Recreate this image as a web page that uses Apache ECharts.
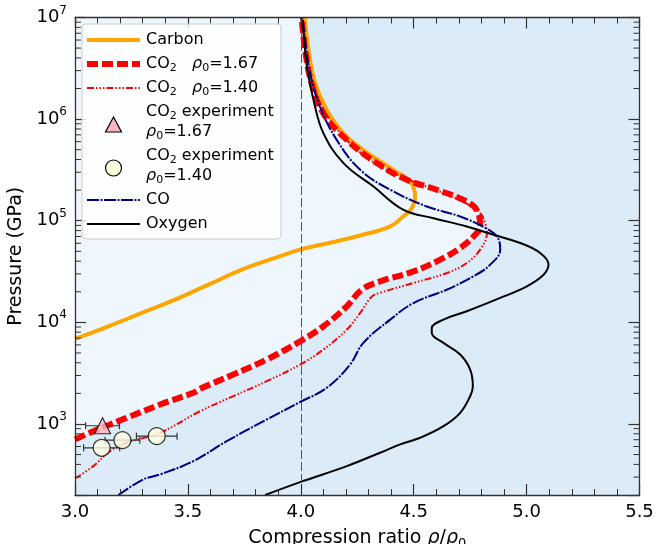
<!DOCTYPE html>
<html><head><meta charset="utf-8">
<script src="https://cdn.jsdelivr.net/npm/echarts@6/dist/echarts.min.js"></script>
<style>html,body{margin:0;padding:0;background:#fff}#c{width:667px;height:544px}</style>
</head><body><div id="c"></div>
<script>
// ---- data ----
const carbonX = [3.000,3.148,3.296,3.443,3.591,3.739,3.886,3.997,4.130,4.276,4.396,4.453,4.492,4.506,4.484,4.409,4.276,4.187,4.115,4.063,4.034,4.017];
const carbonP = [6870,9140,12390,16750,23500,33000,43000,51900,60800,72800,87900,110000,133000,173000,243000,317000,499000,733000,1230000,2270000,4800000,10000000];

const co2a_X = [3.000,3.081,3.155,3.229,3.377,3.524,3.554,3.701,3.849,3.997,4.100,4.204,4.270,4.351,4.499,4.617,4.706,4.765,4.794,4.786,4.745,4.602,4.469,4.337,4.204,4.100,4.048,4.019,4.004];
const co2a_P = [705,849,988,1150,1556,2027,2218,3063,4306,6510,9150,14400,21000,25300,31700,41400,54000,70100,87900,119000,150000,202000,253000,369000,625000,1140000,2250000,4800000,10000000];

const co2b_X = [3.000,3.081,3.155,3.229,3.377,3.554,3.701,3.849,3.997,4.100,4.204,4.263,4.315,4.351,4.499,4.647,4.735,4.794,4.824,4.816,4.794,4.735,4.632,4.499,4.366,4.233,4.130,4.063,4.027,4.006];
const co2b_P = [291,385,541,653,820,1336,1876,2635,3845,5400,8490,12400,18000,19500,24400,30600,38400,51900,75700,94900,119000,147000,187000,243000,330000,537000,984000,1940000,4120000,10000000];

const coX = [3.192,3.303,3.377,3.524,3.672,3.849,3.997,4.115,4.218,4.277,4.396,4.499,4.647,4.765,4.839,4.883,4.872,4.824,4.706,4.558,4.396,4.263,4.159,4.085,4.041,4.015,4.008];
const coP = [200,285,319,431,677,1107,1645,2270,3845,6280,10640,15500,21000,28400,37000,51900,68100,83400,110000,138000,202000,317000,625000,1330000,2830000,7000000,10000000];

const oxX = [3.842,3.997,4.204,4.351,4.440,4.529,4.632,4.706,4.750,4.762,4.750,4.706,4.632,4.580,4.580,4.632,4.735,4.883,5.001,5.075,5.097,5.060,4.972,4.853,4.735,4.588,4.455,4.322,4.189,4.100,4.056,4.027,4.009,4.000];
const oxP = [200,268,385,521,629,732,951,1288,1876,2350,3433,4820,6280,7870,8810,10640,12850,17400,22600,29400,37000,48200,60400,72800,87900,106000,128000,217000,369000,728000,1550000,3280000,8100000,10000000];

const exp167X = [3.122];
const exp167P = [960];
const exp167Err = [0.075];

const exp140X = [3.118, 3.210, 3.362];
const exp140P = [583, 693, 759];
const exp140Err = [0.08, 0.077, 0.09];

const xTicks = [3.0, 3.5, 4.0, 4.5, 5.0, 5.5];
const yDecades = [3, 4, 5, 6, 7];
const minorMult = [2,3,4,5,6,7,8,9];

const xMin = 3.0, xMax = 5.5, yMin = 200, yMax = 1e7, refX = 4.0;

// ---- helpers ----
const FONT = 'DejaVu Sans';
const SMOOTH = 0.4;
const zip = (a, b) => a.map((v, i) => [v, b[i]]);
const minorVals = [];
for (let d = 2; d <= 6; d++) for (const m of minorMult) { const v = m * Math.pow(10, d); if (v > yMin && v < yMax) minorVals.push(v); }

const chart = echarts.init(document.getElementById('c'), null, {renderer: 'canvas'});

const axisCol = '#333';
const xAxisBase = {
  type: 'value', min: xMin, max: xMax, interval: 0.5, z: 10,
  axisLine: {lineStyle: {color: axisCol, width: 1.3}},
  axisTick: {inside: true, length: 11, lineStyle: {color: axisCol, width: 1.2}},
  minorTick: {show: true, splitNumber: 5, length: 6, lineStyle: {color: axisCol, width: 1}},
  splitLine: {show: false}, minorSplitLine: {show: false}
};
const yAxisBase = {
  type: 'log', logBase: 10, min: yMin, max: yMax, z: 10,
  axisLine: {lineStyle: {color: axisCol, width: 1.3}},
  axisTick: {inside: true, length: 11, lineStyle: {color: axisCol, width: 1.2}},
  splitLine: {show: false}
};

function decadeLabel(v) {
  const l = Math.log10(v); const e = Math.round(l);
  if (Math.abs(l - e) > 1e-6 || yDecades.indexOf(e) < 0) return '';
  return '10{sup|' + e + '}';
}

const subStyle = {fontFamily: FONT, fontSize: 12, lineHeight: 12, verticalAlign: 'bottom', color: '#000'};
const itStyle = {fontFamily: FONT, fontStyle: 'italic', color: '#000'};

const option = {
  animation: false,
  grid: {left: 75, right: 27.5, top: 17.5, bottom: 49, show: true, backgroundColor: '#dbebf8', borderWidth: 0,
    containLabel: false, outerBoundsMode: 'none'},
  xAxis: [
    Object.assign({}, xAxisBase, {
      position: 'bottom',
      axisLabel: {fontFamily: FONT, fontSize: 18, color: '#000', margin: 8, formatter: v => v.toFixed(1)},
      name: 'Compression ratio {i|ρ}/{i|ρ}{sub|0}', nameLocation: 'middle', nameGap: 28,
      nameTextStyle: {fontFamily: FONT, fontSize: 19, color: '#000', lineHeight: 24,
        rich: {i: Object.assign({fontSize: 19, lineHeight: 24}, itStyle), sub: Object.assign({}, subStyle, {fontSize: 13, lineHeight: 13})}}
    }),
    Object.assign({}, xAxisBase, {position: 'top', axisLabel: {show: false}})
  ],
  yAxis: [
    Object.assign({}, yAxisBase, {
      position: 'left',
      axisLabel: {fontFamily: FONT, fontSize: 18, color: '#000', margin: 8, lineHeight: 26, formatter: decadeLabel,
        rich: {sup: {fontFamily: FONT, fontSize: 12, lineHeight: 12, verticalAlign: 'top', color: '#000'}}},
      name: 'Pressure (GPa)', nameLocation: 'middle', nameGap: 44,
      nameTextStyle: {fontFamily: FONT, fontSize: 19, color: '#000'}
    }),
    Object.assign({}, yAxisBase, {position: 'right', axisLabel: {show: false}})
  ],
  series: [
    { // light region left of the CO2 rho0=1.67 curve
      type: 'custom', name: 'region', z: 1, silent: true,
      data: [[xMin, yMax]],
      renderItem: function (params, api) {
        const pts = [api.coord([xMin, yMax])];
        co2a_X.forEach((x, i) => pts.push(api.coord([x, co2a_P[i]])));
        return {type: 'polygon', shape: {points: pts}, style: {fill: '#eff7fe', stroke: null}};
      },
      markLine: {
        silent: true, symbol: ['none', 'none'], label: {show: false},
        lineStyle: {color: '#555', width: 1, type: [9, 3]},
        data: [{xAxis: refX}]
      }
    },
    {type: 'line', name: 'Carbon', data: zip(carbonX, carbonP), symbol: 'none', smooth: SMOOTH, z: 3,
      lineStyle: {color: '#FFA500', width: 4}},
    {type: 'line', name: 'CO2 1.67', data: zip(co2a_X, co2a_P), symbol: 'none', smooth: SMOOTH, z: 3,
      lineStyle: {color: '#FF0000', width: 6, type: [11, 4]}},
    {type: 'line', name: 'CO2 1.40', data: zip(co2b_X, co2b_P), symbol: 'none', smooth: SMOOTH, z: 3,
      lineStyle: {color: '#FF0000', width: 2, type: [7, 2, 1.5, 2, 1.5, 2, 1.5, 2]}},
    {type: 'line', name: 'CO', data: zip(coX, coP), symbol: 'none', smooth: SMOOTH, z: 3,
      lineStyle: {color: '#000080', width: 2, type: [12, 1.5, 2, 1.5]}},
    {type: 'line', name: 'Oxygen', data: zip(oxX, oxP), symbol: 'none', smooth: SMOOTH, z: 3,
      lineStyle: {color: '#000000', width: 2}},
    { // horizontal error bars
      type: 'custom', name: 'errors', z: 4, silent: true,
      data: exp167X.map((x, i) => [x, exp167P[i], exp167Err[i]]).concat(exp140X.map((x, i) => [x, exp140P[i], exp140Err[i]])),
      renderItem: function (params, api) {
        const x = api.value(0), p = api.value(1), e = api.value(2);
        const a = api.coord([x - e, p]), b = api.coord([x + e, p]);
        const st = {stroke: '#333', lineWidth: 1.2};
        return {type: 'group', children: [
          {type: 'line', shape: {x1: a[0], y1: a[1], x2: b[0], y2: b[1]}, style: st},
          {type: 'line', shape: {x1: a[0], y1: a[1] - 3.5, x2: a[0], y2: a[1] + 3.5}, style: st},
          {type: 'line', shape: {x1: b[0], y1: b[1] - 3.5, x2: b[0], y2: b[1] + 3.5}, style: st}
        ]};
      }
    },
    {type: 'scatter', name: 'exp 1.67', data: zip(exp167X, exp167P), symbol: 'triangle', symbolSize: 16, z: 6,
      itemStyle: {color: '#FFB6C1', borderColor: '#000', borderWidth: 1.2}},
    {type: 'scatter', name: 'exp 1.40', data: zip(exp140X, exp140P), symbol: 'circle', symbolSize: 17, z: 6,
      itemStyle: {color: '#FFFFE0', borderColor: '#000', borderWidth: 1.2}},
    { // minor ticks of the log axis (left and right)
      type: 'custom', name: 'minor', z: 11, silent: true,
      data: minorVals.map(v => [xMin, v]),
      renderItem: function (params, api) {
        const cs = params.coordSys;
        const y = api.coord([xMin, api.value(1)])[1];
        const st = {stroke: axisCol, lineWidth: 1};
        return {type: 'group', children: [
          {type: 'line', shape: {x1: cs.x, y1: y, x2: cs.x + 6, y2: y}, style: st},
          {type: 'line', shape: {x1: cs.x + cs.width - 6, y1: y, x2: cs.x + cs.width, y2: y}, style: st}
        ]};
      }
    }
  ],
  graphic: buildLegend()
};

function buildLegend() {
  const L = 87, R = 140, TX = 146;
  const txtRich = {
    sub: {fontFamily: FONT, fontSize: 11, lineHeight: 11, verticalAlign: 'bottom', fill: '#000'},
    i: {fontFamily: FONT, fontSize: 16, fontStyle: 'italic', lineHeight: 20, fill: '#000'}
  };
  const text = (s, y) => ({type: 'text', z: 101, x: TX, y: y,
    style: {text: s, fontFamily: FONT, fontSize: 16, lineHeight: 20, fill: '#000', verticalAlign: 'middle', align: 'left', rich: txtRich}});
  const line = (y, stroke, w, dash) => ({type: 'line', z: 101,
    shape: {x1: L, y1: y, x2: R, y2: y}, style: {stroke: stroke, lineWidth: w, lineDash: dash || null}});
  return [
    {type: 'rect', z: 100, shape: {x: 82, y: 24, width: 199, height: 215, r: 4},
      style: {fill: 'rgba(255,255,255,0.8)', stroke: '#cccccc', lineWidth: 1}},
    line(40, '#FFA500', 4), text('Carbon', 40),
    line(64, '#FF0000', 6, [11, 4]), text('CO{sub|2}   {i|ρ}{sub|0}=1.67', 64),
    line(88, '#FF0000', 2, [7, 2, 1.5, 2, 1.5, 2, 1.5, 2]), text('CO{sub|2}   {i|ρ}{sub|0}=1.40', 88),
    {type: 'polygon', z: 101, shape: {points: [[113.5, 117], [105.5, 132], [121.5, 132]]},
      style: {fill: '#FFB6C1', stroke: '#000', lineWidth: 1.2}},
    text('CO{sub|2} experiment\n{i|ρ}{sub|0}=1.67', 122),
    {type: 'circle', z: 101, shape: {cx: 113.5, cy: 168, r: 8}, style: {fill: '#FFFFE0', stroke: '#000', lineWidth: 1.2}},
    text('CO{sub|2} experiment\n{i|ρ}{sub|0}=1.40', 166),
    line(200, '#000080', 2, [12, 1.5, 2, 1.5]), text('CO', 200),
    line(224, '#000000', 2), text('Oxygen', 224)
  ];
}

chart.setOption(option);
</script>
</body></html>
